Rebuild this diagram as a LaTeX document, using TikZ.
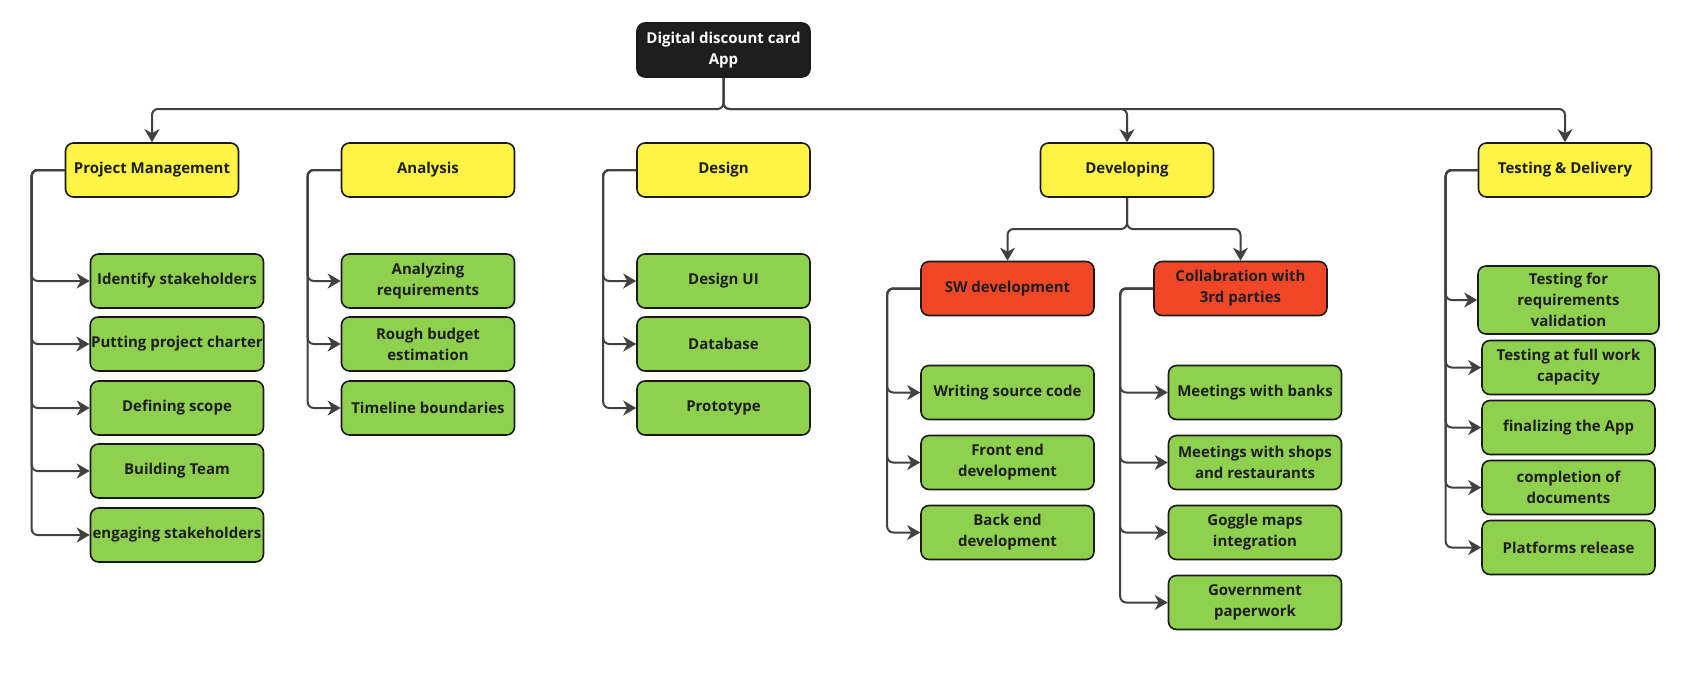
\documentclass[tikz,border=0pt]{standalone}
\usepackage{fontspec}
\setmainfont{Open Sans}
\usepackage{tikz}
\usetikzlibrary{arrows.meta, positioning}

\definecolor{rootc}{HTML}{1E1E1E}
\definecolor{ylw}{HTML}{FEF445}
\definecolor{grn}{HTML}{8FD14F}
\definecolor{redc}{HTML}{F24726}
\definecolor{edgec}{HTML}{1A1A1A}
\definecolor{linec}{HTML}{414141}

\begin{document}
\begin{tikzpicture}[
  x=1pt, y=-1pt,
  box/.style={draw=edgec,line width=1.6pt,rounded corners=8pt,
    minimum width=173pt,minimum height=54pt,inner sep=1pt,align=center,
    text=rootc,font=\bfseries\fontsize{15}{21}\selectfont},
  top/.style={box,fill=rootc,text=white},
  phase/.style={box,fill=ylw},
  sub/.style={box,fill=redc},
  task/.style={box,fill=grn},
  link/.style={draw=linec,line width=2pt,rounded corners=6pt},
  arr/.style={link,-{Stealth[length=13pt,width=15pt,inset=4pt]}}
]
  \useasboundingbox (0,0) rectangle (1685,673);

  \node[top] (app) at (723.5,50) {Digital discount card\\App};

  \node[phase] (pm)  at (152,170)    {Project Management};
  \node[phase] (an)  at (428,170)    {Analysis};
  \node[phase] (des) at (723.5,170)  {Design};
  \node[phase] (dev) at (1127,170)   {Developing};
  \node[phase] (td)  at (1565,170)   {Testing \& Delivery};

  \node[sub] (sw)  at (1007.5,288.5) {SW development};
  \node[sub] (col) at (1240.5,288.5) {Collabration with\\3rd parties};

  \node[task] (pm1) at (177,281)   {Identify stakeholders};
  \node[task] (pm2) at (177,344)   {Putting project charter};
  \node[task] (pm3) at (177,408)   {Defining scope};
  \node[task] (pm4) at (177,471)   {Building Team};
  \node[task] (pm5) at (177,535)   {engaging stakeholders};

  \node[task] (an1) at (428,281)   {Analyzing\\requirements};
  \node[task] (an2) at (428,344)   {Rough budget\\estimation};
  \node[task] (an3) at (428,408)   {Timeline boundaries};

  \node[task] (des1) at (723.5,281) {Design UI};
  \node[task] (des2) at (723.5,344) {Database};
  \node[task] (des3) at (723.5,408) {Prototype};

  \node[task] (sw1) at (1007.5,392.5) {Writing source code};
  \node[task] (sw2) at (1007.5,462.5) {Front end\\development};
  \node[task] (sw3) at (1007.5,532.5) {Back end\\development};

  \node[task] (col1) at (1255,392.5) {Meetings with banks};
  \node[task] (col2) at (1255,462.5) {Meetings with shops\\and restaurants};
  \node[task] (col3) at (1255,532.5) {Goggle maps\\integration};
  \node[task] (col4) at (1255,602.5) {Government\\paperwork};

  \node[task,minimum width=181pt,minimum height=68pt] (td1) at (1568.5,300)
    {Testing for\\requirements\\validation};
  \node[task] (td2) at (1568.5,367.5) {Testing at full work\\capacity};
  \node[task] (td3) at (1568.5,427.5) {finalizing the App};
  \node[task] (td4) at (1568.5,487.5) {completion of\\documents};
  \node[task] (td5) at (1568.5,547.5) {Platforms release};

  % top level
  \coordinate (bus) at (723.5,109);
  \draw[arr] (app.south) -- (bus) -| (pm.north);
  \draw[arr] (app.south) -- (bus) -| (dev.north);
  \draw[arr] (app.south) -- (bus) -| (td.north);

  \coordinate (devbus) at (1127,229);
  \draw[arr] (dev.south) -- (devbus) -| (sw.north);
  \draw[arr] (dev.south) -- (devbus) -| (col.north);

  % branches
  \draw[arr] (pm.west) -- ++(-33,0) |- (pm1.west);
  \draw[arr] (pm.west) -- ++(-33,0) |- (pm2.west);
  \draw[arr] (pm.west) -- ++(-33,0) |- (pm3.west);
  \draw[arr] (pm.west) -- ++(-33,0) |- (pm4.west);
  \draw[arr] (pm.west) -- ++(-33,0) |- (pm5.west);

  \draw[arr] (an.west) -- ++(-33,0) |- (an1.west);
  \draw[arr] (an.west) -- ++(-33,0) |- (an2.west);
  \draw[arr] (an.west) -- ++(-33,0) |- (an3.west);

  \draw[arr] (des.west) -- ++(-33,0) |- (des1.west);
  \draw[arr] (des.west) -- ++(-33,0) |- (des2.west);
  \draw[arr] (des.west) -- ++(-33,0) |- (des3.west);

  \draw[arr] (sw.west) -- ++(-33,0) |- (sw1.west);
  \draw[arr] (sw.west) -- ++(-33,0) |- (sw2.west);
  \draw[arr] (sw.west) -- ++(-33,0) |- (sw3.west);

  \draw[arr] (col.west) -- ++(-33,0) |- (col1.west);
  \draw[arr] (col.west) -- ++(-33,0) |- (col2.west);
  \draw[arr] (col.west) -- ++(-33,0) |- (col3.west);
  \draw[arr] (col.west) -- ++(-33,0) |- (col4.west);

  \draw[arr] (td.west) -- ++(-32,0) |- (td1.west);
  \draw[arr] (td.west) -- ++(-32,0) |- (td2.west);
  \draw[arr] (td.west) -- ++(-32,0) |- (td3.west);
  \draw[arr] (td.west) -- ++(-32,0) |- (td4.west);
  \draw[arr] (td.west) -- ++(-32,0) |- (td5.west);
\end{tikzpicture}
\end{document}
